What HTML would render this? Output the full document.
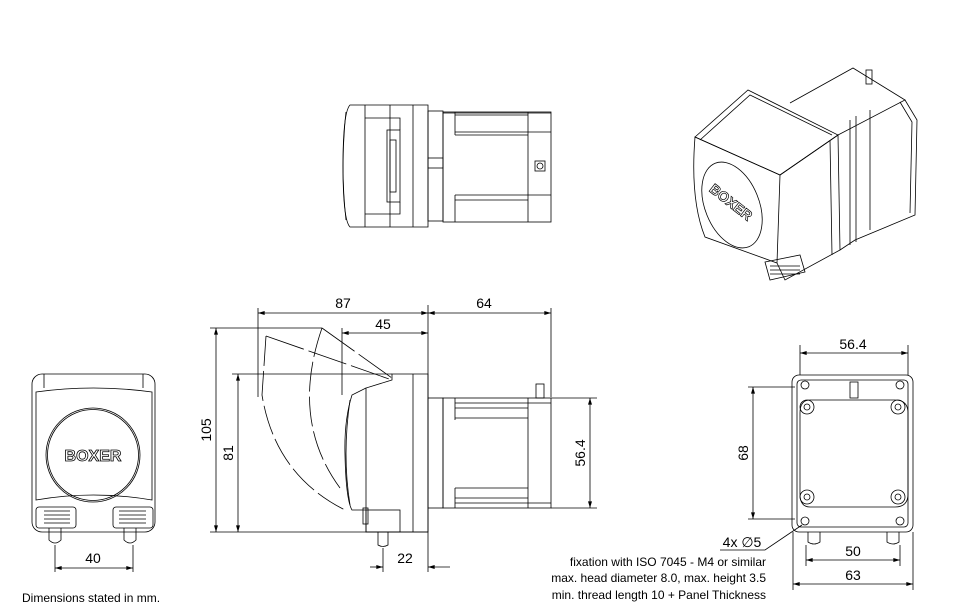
<!DOCTYPE html>
<html><head><meta charset="utf-8"><style>
html,body{margin:0;padding:0;background:#fff;}
svg{display:block;}
text{font-family:"Liberation Sans",Arial,sans-serif;}
</style></head><body>
<svg width="960" height="608" viewBox="0 0 960 608" xmlns="http://www.w3.org/2000/svg">
<defs>
<marker id="a" viewBox="0 0 10 6" refX="10" refY="3" markerWidth="10" markerHeight="4" orient="auto-start-reverse" markerUnits="userSpaceOnUse"><path d="M0,0L10,3L0,6Z" fill="#000"/></marker>
</defs>
<g fill="none" stroke="#000" stroke-width="0.8">
<!-- TOP VIEW -->
<path d="M350,105 L428,105 L428,227 L350,227 Q343,220 343,166 Q343,112 350,105Z"/>
<path d="M346,112 Q340,166 346,220"/>
<line x1="365" y1="105" x2="365" y2="227"/>
<line x1="390" y1="105" x2="390" y2="227"/>
<line x1="413" y1="105" x2="413" y2="227"/>
<path d="M365,118 L400,118 L400,130 M365,214 L400,214 L400,202"/>
<rect x="387" y="130" width="13" height="72"/>
<rect x="390" y="140" width="6" height="52"/>
<rect x="428" y="111" width="15" height="110"/>
<rect x="428" y="158" width="15" height="10"/>
<rect x="443" y="112" width="108" height="110"/>
<line x1="528" y1="112" x2="528" y2="222"/>
<path d="M443,113 L551,113 M455,115 L528,115 M455,132 L551,132 M455,135 L528,135 M455,195 L551,195 M455,200 L528,200"/>
<path d="M455,112 L455,135 M455,195 L455,222"/>
<rect x="535" y="161" width="10" height="10"/>
<circle cx="540" cy="166" r="3"/>

<!-- SIDE VIEW -->
<line x1="258" y1="308" x2="258" y2="397"/>
<line x1="428" y1="305" x2="428" y2="572"/>
<line x1="551" y1="308" x2="551" y2="397"/>
<line x1="342" y1="328" x2="342" y2="395"/>
<line x1="258" y1="313" x2="428" y2="313" marker-start="url(#a)" marker-end="url(#a)"/>
<line x1="428" y1="313" x2="551" y2="313" marker-start="url(#a)" marker-end="url(#a)"/>
<line x1="342" y1="333" x2="428" y2="333" marker-start="url(#a)" marker-end="url(#a)"/>
<line x1="210" y1="328" x2="322" y2="328"/>
<line x1="232" y1="374" x2="392" y2="374"/>
<line x1="210" y1="532" x2="428" y2="532"/>
<line x1="216" y1="328" x2="216" y2="532" marker-start="url(#a)" marker-end="url(#a)"/>
<line x1="238" y1="374" x2="238" y2="532" marker-start="url(#a)" marker-end="url(#a)"/>
<path d="M266,336 L262,395 Q275,475 345,510" stroke-dasharray="30,5"/>
<path d="M322,328 Q290,420 340,488" stroke-dasharray="30,5"/>
<path d="M266,336 L392,380 M322,328 L392,378" stroke-dasharray="40,5"/>
<path d="M392,374 L428,374 L428,532 L366,532 L366,388 L392,380 Z"/>
<line x1="413" y1="374" x2="413" y2="532"/>
<path d="M366,388 L352,395 Q344,420 345,455 Q346,500 352,510 L366,510"/>
<path d="M350,400 Q342,455 350,505"/>
<rect x="366" y="510" width="34" height="22"/>
<rect x="363" y="508" width="5" height="16"/>
<path d="M378,532 L378,545 Q383,548 388,545 L388,532"/>
<rect x="428" y="398" width="15" height="110"/>
<rect x="443" y="398" width="108" height="110"/>
<line x1="528" y1="398" x2="528" y2="508"/>
<path d="M455,403 L551,403 M455,408 L528,408 M455,418 L528,418 M455,488 L528,488 M455,498 L528,498 M455,503 L551,503"/>
<path d="M455,398 L455,420 M455,488 L455,508"/>
<rect x="536" y="384" width="8" height="14"/>
<line x1="551" y1="398" x2="597" y2="398"/>
<line x1="551" y1="508" x2="597" y2="508"/>
<line x1="590" y1="398" x2="590" y2="508" marker-start="url(#a)" marker-end="url(#a)"/>
<line x1="383" y1="548" x2="383" y2="572"/>
<line x1="370" y1="567" x2="383" y2="567" marker-end="url(#a)"/>
<line x1="428" y1="567" x2="450" y2="567" marker-start="url(#a)"/>

<!-- FRONT VIEW -->
<rect x="32" y="374" width="123" height="158" rx="10"/>
<path d="M44,374 L44,388 M143,374 L143,388"/>
<path d="M36,392 Q93,384 152,392 L152,500 Q93,490 36,500 Z"/>
<circle cx="93" cy="455" r="47"/>
<circle cx="93" cy="455" r="45.5"/>
<rect x="36" y="507" width="40" height="21" rx="3"/>
<rect x="113" y="507" width="40" height="21" rx="3"/>
<path d="M44,511 H70 M44,515 H70 M44,519 H70 M44,523 H70 M119,511 H146 M119,515 H146 M119,519 H146 M119,523 H146"/>
<path d="M49,528 L49,540 Q55,546 61,540 L61,528 M124,528 L124,540 Q130,546 136,540 L136,528"/>
<line x1="55" y1="545" x2="55" y2="572"/>
<line x1="133" y1="545" x2="133" y2="572"/>
<line x1="55" y1="568" x2="133" y2="568" marker-start="url(#a)" marker-end="url(#a)"/>

<!-- RIGHT VIEW -->
<rect x="792" y="375" width="121" height="157" rx="7"/>
<rect x="797" y="380" width="111" height="147" rx="4"/>
<path d="M810,400 L895,400 Q908,400 908,413 L908,494 Q908,507 895,507 L810,507 Q800,507 800,494 L800,413 Q800,400 810,400Z"/>
<circle cx="807" cy="407" r="7"/><circle cx="807" cy="407" r="3"/>
<circle cx="898" cy="407" r="7"/><circle cx="898" cy="407" r="3"/>
<circle cx="807" cy="497" r="7"/><circle cx="807" cy="497" r="3"/>
<circle cx="898" cy="497" r="7"/><circle cx="898" cy="497" r="3"/>
<circle cx="805" cy="385" r="4"/><circle cx="900" cy="385" r="4"/>
<circle cx="805" cy="521" r="4"/><circle cx="900" cy="521" r="4"/>
<rect x="850" y="382" width="8" height="16"/>
<path d="M808,532 L808,542 Q814,546 820,542 L820,532 M887,532 L887,542 Q893,546 899,542 L899,532"/>
<line x1="800" y1="345" x2="800" y2="375"/>
<line x1="908" y1="345" x2="908" y2="375"/>
<line x1="800" y1="353" x2="908" y2="353" marker-start="url(#a)" marker-end="url(#a)"/>
<line x1="748" y1="387" x2="795" y2="387"/>
<line x1="748" y1="519" x2="795" y2="519"/>
<line x1="753" y1="387" x2="753" y2="519" marker-start="url(#a)" marker-end="url(#a)"/>
<line x1="806" y1="545" x2="806" y2="566"/>
<line x1="900" y1="545" x2="900" y2="566"/>
<line x1="806" y1="560" x2="900" y2="560" marker-start="url(#a)" marker-end="url(#a)"/>
<line x1="793" y1="532" x2="793" y2="590"/>
<line x1="913" y1="532" x2="913" y2="590"/>
<line x1="793" y1="584" x2="913" y2="584" marker-start="url(#a)" marker-end="url(#a)"/>
<path d="M720,550 L765,550 L802,525" />

<!-- 3D VIEW -->
<path d="M695,137 L748,90 L838,135 L780,175 Z"/>
<path d="M700,140 L750,95 L832,135"/>
<path d="M695,137 Q690,200 705,237 L777,263 L780,175 Z"/>
<path d="M780,175 L838,135 L840,250 L785,280 L777,263"/>
<path d="M790,103 L853,68 L905,100 L838,135"/>
<path d="M905,100 L917,120 L915,215 L855,240 L840,250"/>
<path d="M850,120 L850,245 M856,116 L856,242 M830,140 L832,255"/>
<path d="M870,110 L870,230 M900,102 L912,122 L910,213"/>
<rect x="866" y="70" width="6" height="14"/>
<ellipse cx="732" cy="205" rx="27" ry="45" transform="rotate(-22 732 205)"/>
<path d="M765,262 L800,255 L805,272 L770,280 Z"/>
<path d="M770,266 H800 M770,270 H800 M770,274 H800"/>
</g>
<g font-size="14" text-anchor="middle" style="fill:#000">
<text x="343" y="308">87</text>
<text x="484" y="308">64</text>
<text x="383" y="329">45</text>
<text x="405" y="563">22</text>
<text x="93" y="563">40</text>
<text x="853" y="349">56.4</text>
<text x="853" y="556">50</text>
<text x="853" y="580">63</text>
<text transform="translate(211,430) rotate(-90)">105</text>
<text transform="translate(233,453) rotate(-90)">81</text>
<text transform="translate(585,453) rotate(-90)">56.4</text>
<text transform="translate(748,453) rotate(-90)">68</text>
<text x="742" y="547">4x ∅5</text>
</g>
<text x="93" y="461" font-size="16" font-weight="bold" text-anchor="middle" style="fill:#fff;stroke:#000;stroke-width:0.8">BOXER</text>
<text transform="translate(728,206) rotate(38)" font-size="14" font-weight="bold" text-anchor="middle" style="fill:#fff;stroke:#000;stroke-width:0.7">BOXER</text>
<g font-size="12" text-anchor="end" style="fill:#000">
<text x="766" y="566">fixation with ISO 7045 - M4 or similar</text>
<text x="766" y="582">max. head diameter 8.0, max. height  3.5</text>
<text x="766" y="599">min. thread length 10 + Panel Thickness</text>
</g>
<text x="22" y="602" font-size="12" style="fill:#000">Dimensions stated in mm.</text>
</svg>
</body></html>
